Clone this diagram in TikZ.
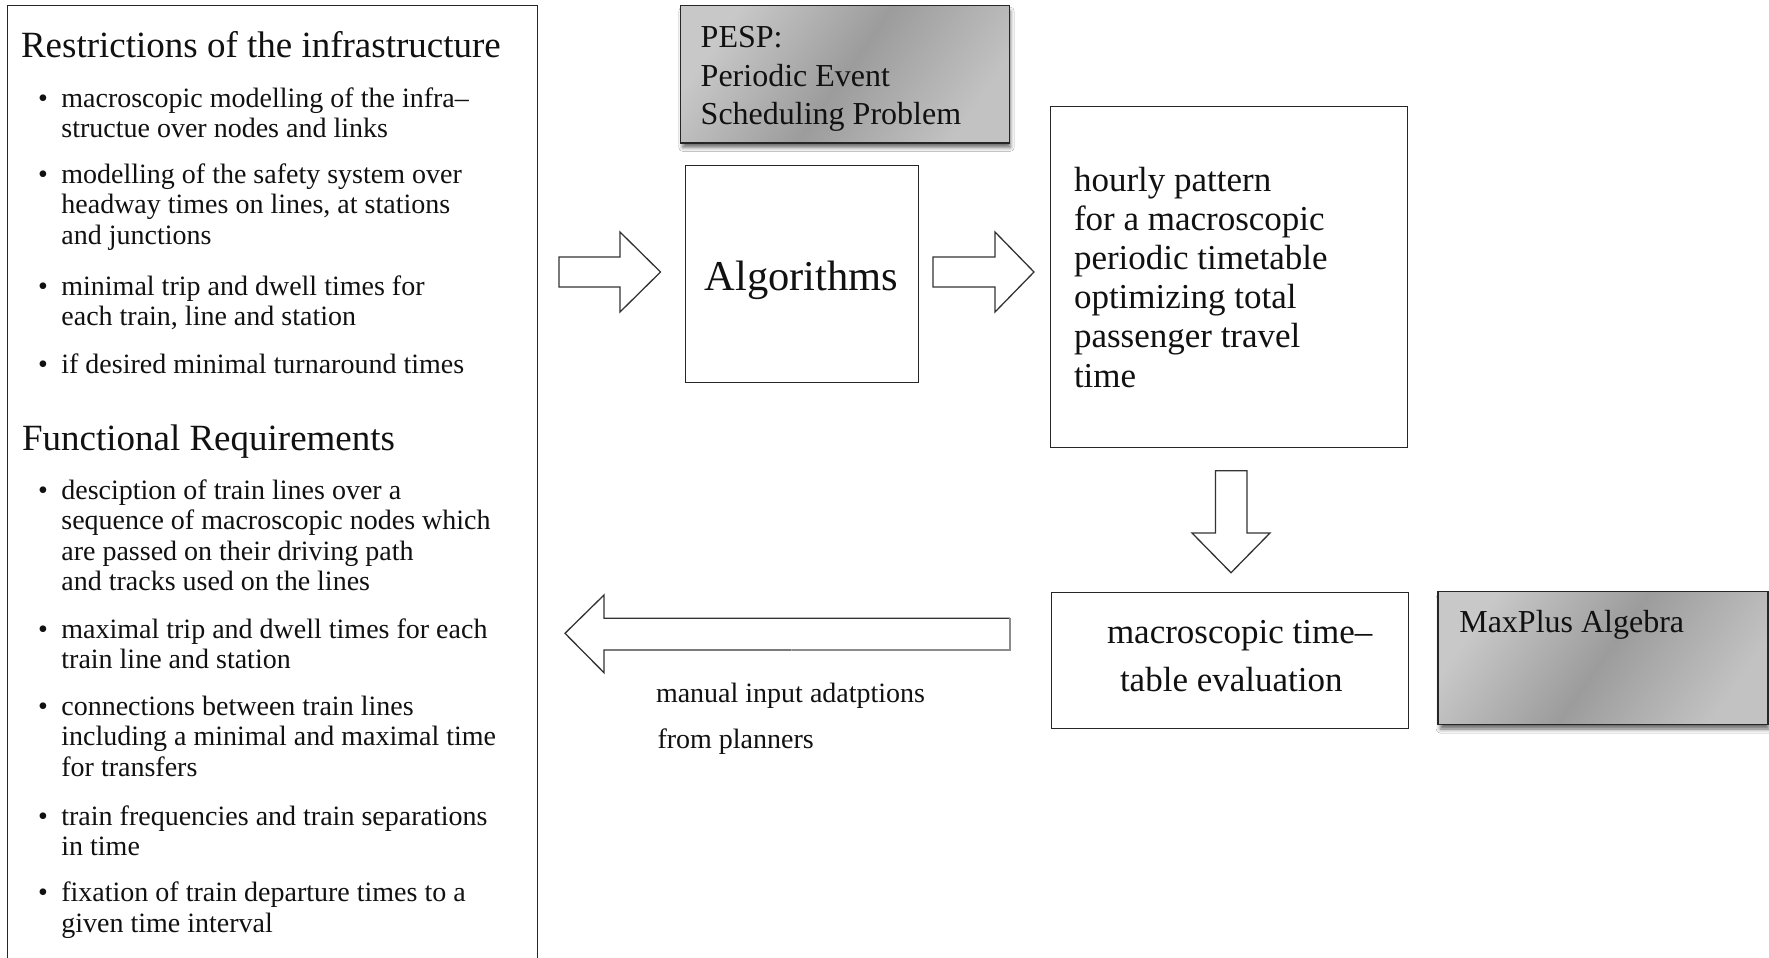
\documentclass[tikz,border=0pt]{standalone}
\usepackage{fontspec}
\setmainfont{Liberation Serif}
\usetikzlibrary{shadows.blur}

\definecolor{shadeL}{HTML}{C8C8C8}
\definecolor{shadeM}{HTML}{9C9C9C}
\definecolor{shadeR}{HTML}{C2C2C2}
\definecolor{ink}{HTML}{111111}

% light - dark - light band used to fill the gray boxes
\pgfdeclarehorizontalshading{grayband}{100bp}{color(0bp)=(shadeL); color(25bp)=(shadeL);
  color(50bp)=(shadeM); color(75bp)=(shadeR); color(100bp)=(shadeR)}

% font size / baseline skip in pt
\newcommand{\fs}[2]{\fontsize{#1pt}{#2pt}\selectfont}
% a bullet followed by a block of lines whose first baseline is the node's baseline
\newcommand{\bul}[1]{\makebox[23.4pt][l]{\textbullet}\begin{tabular}[t]{@{}l@{}}#1\end{tabular}}
\newcommand{\lines}[1]{\begin{tabular}[t]{@{}l@{}}#1\end{tabular}}
% shaded face and outline on top of a gray box node
\newcommand{\grayface}[1]{%
  \shade[shading=grayband, shading angle=-35] (#1.north west) rectangle (#1.south east);
  \draw[draw=black!85, line width=1.4pt] (#1.north west) rectangle (#1.south east);}

\tikzset{
  frame/.style={draw=black!85, line width=1.4pt, inner sep=0pt, anchor=north west},
  graybox/.style={frame, fill=shadeM,
    blur shadow={shadow xshift=1.5pt, shadow yshift=-5pt, shadow blur radius=4pt, shadow opacity=60}},
  txt/.style={inner sep=0pt, outer sep=0pt, anchor=base west, text=ink},
  item/.style={txt, font=\fs{28}{30.5}},
  heading/.style={txt, font=\fs{37}{40}},
  blockarrow/.style={draw=black!80, line width=1.3pt, line join=miter},
}

\begin{document}
\begin{tikzpicture}[x=1pt, y=-1pt]
  \useasboundingbox (0,0) rectangle (1769,958);
  \fill[white] (0,0) rectangle (1769,958);
  \clip (0,0) rectangle (1769,958);

  % ---------- left panel: restrictions and requirements ----------
  \node[frame, minimum width=530pt, minimum height=1000pt] (panel) at (7,5) {};

  \node[heading] (h1) at (21,58) {Restrictions of the infrastructure};
  \node[item] (r1) at (38,107) {\bul{macroscopic modelling of the infra–\\ structue over nodes and links}};
  \node[item] (r2) at (38,183) {\bul{modelling of the safety system over\\ headway times on lines, at stations\\ and junctions}};
  \node[item] (r3) at (38,295) {\bul{minimal trip and dwell times for\\ each train, line and station}};
  \node[item] (r4) at (38,373) {\bul{if desired minimal turnaround times}};

  \node[heading] (h2) at (22,450.5) {Functional Requirements};
  \node[item] (f1) at (38,499) {\bul{desciption of train lines over a\\ sequence of macroscopic nodes which\\ are passed on their driving path\\ and tracks used on the lines}};
  \node[item] (f2) at (38,638) {\bul{maximal trip and dwell times for each\\ train line and station}};
  \node[item] (f3) at (38,715) {\bul{connections between train lines\\ including a minimal and maximal time\\ for transfers}};
  \node[item] (f4) at (38,825) {\bul{train frequencies and train separations\\ in time}};
  \node[item] (f5) at (38,901.5) {\bul{fixation of train departure times to a\\ given time interval}};

  % ---------- method boxes ----------
  \node[graybox, minimum width=327.4pt, minimum height=136.2pt] (pesp) at (680.6,5.5) {};
  \grayface{pesp}
  \node[txt, font=\fs{32}{38.3}] (pesptext) at (700.7,48) {\lines{PESP:\\ Periodic Event\\ Scheduling Problem}};

  \node[frame, minimum width=233pt, minimum height=217pt] (algo) at (684.7,165) {};
  \node[txt, anchor=base, font=\fs{42.5}{46}] (algotext) at (801.5,290) {Algorithms};

  \node[frame, minimum width=357pt, minimum height=341pt] (hourly) at (1050,106) {};
  \node[txt, font=\fs{35}{39.2}] (hourlytext) at (1074,191)
    {\lines{hourly pattern\\ for a macroscopic\\ periodic timetable\\ optimizing total\\ passenger travel\\ time}};

  \node[frame, minimum width=356.5pt, minimum height=135.7pt] (eval) at (1051,592) {};
  \node[txt, font=\fs{35}{48}] (evaltext) at (1107,643.4)
    {\lines{macroscopic time–\\ \hspace*{13pt}table evaluation}};

  \node[graybox, minimum width=328.7pt, minimum height=131.6pt] (maxplus) at (1438,591.7) {};
  \grayface{maxplus}
  \node[txt, font=\fs{32}{36}] (maxplustext) at (1459.3,632.8) {MaxPlus Algebra};

  \node[txt, font=\fs{28}{45.5}] (manual) at (656,702.8)
    {\lines{manual input adatptions\\ \hspace*{1.5pt}from planners}};

  % ---------- block arrows ----------
  \draw[blockarrow] (559,257) -- (620,257) -- (620,232) -- (660.5,272)
    -- (620,312) -- (620,287) -- (559,287) -- cycle;
  \draw[blockarrow] (933,257) -- (995,257) -- (995,232) -- (1034,272)
    -- (995,312) -- (995,287) -- (933,287) -- cycle;
  \draw[blockarrow] (1215.5,470.7) -- (1247,470.7) -- (1247,533) -- (1270,533)
    -- (1231,572.7) -- (1192,533) -- (1215.5,533) -- cycle;
  \draw[blockarrow] (1010,618.3) -- (604,618.3) -- (604,595) -- (565,633.3)
    -- (604,672.7) -- (604,650) -- (791.7,650);
  \draw[blockarrow, draw=black!45] (791.7,650) -- (1010,650) -- (1010,618.3);
\end{tikzpicture}
\end{document}
